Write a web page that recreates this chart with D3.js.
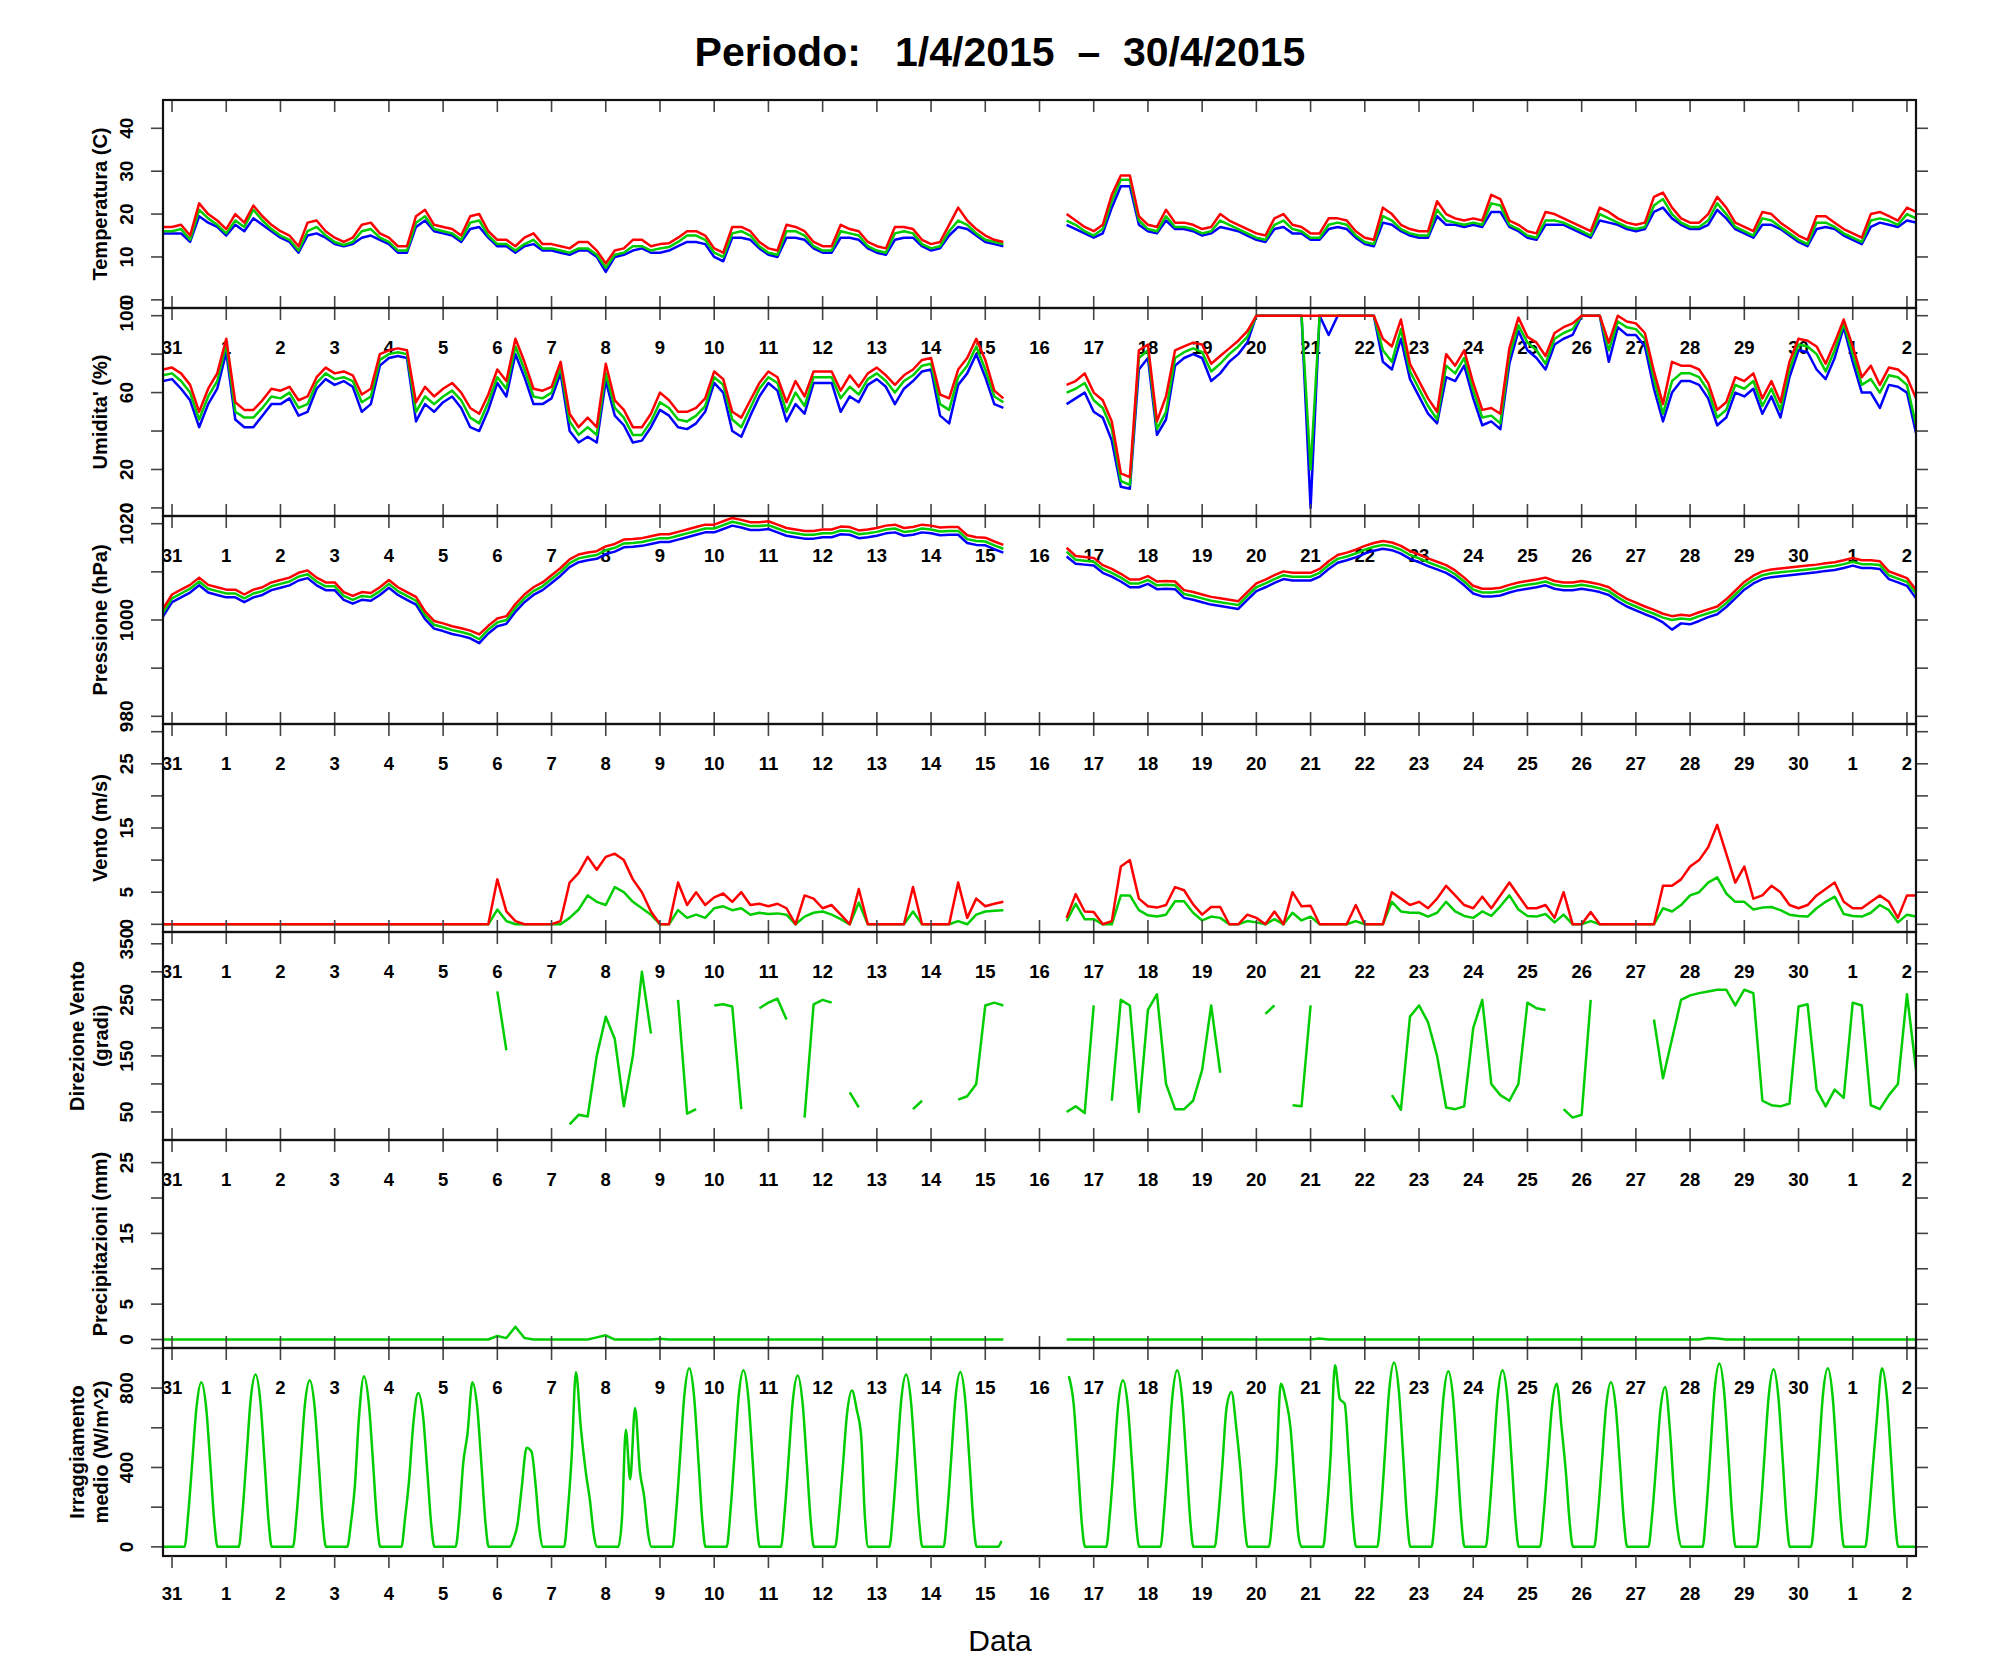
<!DOCTYPE html>
<html><head><meta charset="utf-8">
<script src="https://cdn.jsdelivr.net/npm/d3@7"></script>
<style>
body{margin:0;background:#fff}
svg{display:block}
text{font-family:"Liberation Sans",Arial,Helvetica,sans-serif}
</style>
</head><body>
<svg id="chart" width="1991" height="1680"></svg>
<script>
const _ = null;
// ---- time axis ----
const dayLabels = ["31","1","2","3","4","5","6","7","8","9","10","11","12","13","14","15","16","17","18","19","20","21","22","23","24","25","26","27","28","29","30","1","2"];
const startHour = -4, stepHours = 4; // sample i is at (startHour + i*stepHours) hours after the "31" tick
const mainTitle = "Periodo:   1/4/2015  \u2013  30/4/2015";
const xTitle = "Data";

// ---- Temperatura (C) ----
const tempMin = [15.5,
 15.5,15.5,13.5,19.5,18,17, 15,17.5,16,19,17.5,16, 14.5,13.5,11,15,15.5,14.5, 13,12.5,13,14.5,15,14,
 13,11,11,17,18.5,16, 15.5,15,13.5,16.5,17,14.5, 12.5,12.5,11,12.5,13,11.5, 11.5,11,10.5,11.5,11.5,10,
 6.5,10,10.5,11.5,12,11, 11,11.5,12.5,13.5,13.5,13, 10,9,14.5,14.5,14,12, 10.5,10,14.5,14.5,14,12,
 11,11,14.5,14.5,14,12, 11,10.5,14,14.5,14.5,12.5, 11.5,12,15,17,16.5,15, 13.5,13,12.5,_,_,_,
 _,_,_,17.5,16.5,15.5, 14.5,15.5,21.5,26.5,26.5,17.5, 16,15.5,18.5,16.5,16.5,16, 15,15.5,17,16.5,16,15,
 14,13.5,16.5,17,15.5,15.5, 14,14,16.5,17,16.5,14.5, 13,12.5,18,17.5,16,15, 14.5,14.5,19.5,17.5,17.5,17,
 17.5,17,20.5,20.5,17,16, 14.5,14,17.5,17.5,17.5,16.5, 15.5,14.5,18.5,18,17.5,16.5, 16,16.5,20.5,21.5,19,17.5,
 16.5,16.5,17.5,21,19,16.5, 15.5,14.5,17.5,17.5,16.5,15, 13.5,12.5,16.5,17,16.5,15, 14,13,17,18,17.5,17,
 18.5,18];
const tempMean = [16,
 16,16.5,14,21,19,17.5, 15.5,18.5,17,21,18.5,16.5, 15,14,11.5,16,17,15, 13.5,12.8,13.5,16,16.5,14.5,
 13.5,11.5,11.5,18,19.5,16.5, 16,15.5,14,18,18.5,15, 13,13,11.5,13,14,12, 12,11.5,11,12,12,10.5,
 7.5,10.5,11,12.5,12.5,11.5, 12,12.3,13.5,15,15,14, 11,10,15.5,16,15,12.5, 11,10.5,16,16,15,12.5,
 11.5,11.5,16,15.5,15,12.5, 11.5,11,15.5,16,15.5,13, 12,12.5,16,18.5,17.5,15.5, 14,13.5,13,_,_,_,
 _,_,_,18.5,17.5,16, 15,16.5,23,28,28,18.5, 16.5,16,19.5,17,17,16.5, 15.5,16,18.5,17.5,16.5,15.5,
 14.5,14,17.5,18.5,16.5,16, 14.5,14.5,17.5,18,17.5,15, 13.5,13,19.5,18.5,16.5,15.5, 15,15,21,18.5,18,17.5,
 18,17.5,22.5,22,17.5,16.5, 15,14.5,18.5,18.5,18,17, 16,15,20,19,18,17, 16.5,17,22,23.5,20,18,
 17,17,18.5,22.5,20,17, 16,15,19,18.5,17,15.5, 14,13,18,18,17,15.5, 14.5,13.5,18.5,19,18.5,17.5,
 20,19];
const tempMax = [17,
 17,17.5,15,22.5,20,18.5, 16.5,20,18,22,19.5,17.5, 16,15,12.5,18,18.5,16, 14.5,13.5,14.5,17.5,18,15.5,
 14.5,12.5,12.5,19.5,21,17.5, 17,16.5,15,19.5,20,16, 14,14,12.5,14.5,15.5,13, 13,12.5,12,13.5,13.5,11.5,
 8.5,11.5,12,14,14,12.5, 13,13.2,14.5,16,16,15, 12,11,17,17,16,13.5, 12,11.5,17.5,17,16,13.5,
 12.5,12.5,17.5,16.5,16,13.5, 12.5,12,17,17,16.5,14, 13,13.5,17.5,21.5,18.5,16.5, 15,14,13.5,_,_,_,
 _,_,_,20,18.5,17, 16,17.5,24.5,29,29,19.5, 17.5,17,21,18,18,17.5, 16.5,17,20,18.5,17.5,16.5,
 15.5,15,19,20,17.5,17, 15.5,15.5,19,19,18.5,16, 14.5,14,21.5,20,17.5,16.5, 16,16,23,20,19,18.5,
 19,18.5,24.5,23.5,18.5,17.5, 16,15.5,20.5,20,19,18, 17,16,21.5,20.5,19,18, 17.5,18,24,25,21.5,19,
 18,18,20,24,21.5,18, 17,16,20.5,20,18,16.5, 15,14,19.5,19.5,18,16.5, 15.5,14.5,20,20.5,19.5,18.5,
 21.5,20.5];

// ---- Umidita' (%) ----
const humMin = [66,
 67,62,56,42,54,62, 81,46,42,42,48,54, 54,57,48,50,62,67, 64,66,63,50,54,74,
 78,79,78,45,54,50, 55,58,52,42,40,51, 65,58,80,68,54,54, 57,70,40,34,37,34,
 66,48,43,34,35,42, 51,48,42,41,44,50, 65,60,40,37,48,58, 65,61,45,54,49,65,
 65,65,50,58,55,64, 67,63,54,62,66,71, 72,48,44,64,70,80, 68,54,52,_,_,_,
 _,_,_,54,57,60, 50,47,35,11,10,72, 78,38,46,74,78,80, 78,66,70,76,80,86,
 100,100,100,100,100,100, 0,100,90,100,100,100, 100,100,76,72,88,67, 58,49,44,68,66,74,
 57,43,45,41,75,92, 82,78,72,85,88,90, 100,100,100,76,94,90, 90,84,62,45,60,66,
 66,64,57,43,47,60, 58,62,49,58,47,68, 82,81,72,67,78,94, 76,60,60,52,64,63,
 60,39];
const humMean = [69,
 70,66,60,46,58,66, 85,50,47,47,52,58, 57,60,52,54,65,70, 67,68,66,55,58,77,
 80,81,80,50,58,54, 58,61,56,47,44,55, 68,62,84,72,58,57, 60,73,45,38,42,38,
 70,52,47,38,38,45, 55,52,46,45,48,53, 68,64,46,42,52,62, 68,65,50,60,53,68,
 68,68,57,63,59,67, 70,66,60,66,69,74, 75,54,51,68,74,84, 72,58,55,_,_,_,
 _,_,_,60,62,65, 56,52,41,14,12,78, 82,41,50,78,81,83, 81,71,75,80,84,89,
 100,100,100,100,100,100, 20,100,100,100,100,100, 100,100,82,76,93,71, 62,53,46,74,70,78,
 61,47,48,44,79,95, 86,82,75,88,91,93, 100,100,100,82,97,94, 93,88,67,49,66,70,
 70,68,61,47,51,64, 62,66,53,62,51,72, 85,84,80,71,82,96, 80,64,67,60,69,68,
 64,43];
const humMax = [72,
 73,70,64,50,62,70, 88,55,51,51,56,62, 61,63,56,58,68,73, 70,71,69,59,62,80,
 82,83,82,55,63,58, 62,65,60,52,49,59, 72,66,88,76,62,61, 63,76,49,42,47,42,
 75,56,51,42,42,49, 60,56,50,50,52,57, 71,67,50,47,56,65, 71,68,55,66,58,71,
 71,71,61,69,63,70, 73,69,64,69,72,77, 78,59,57,72,78,88, 77,61,57,_,_,_,
 _,_,_,64,66,70, 60,56,45,18,16,82, 85,45,58,82,84,86, 85,75,79,83,87,92,
 100,100,100,100,100,100, 100,100,100,100,100,100, 100,100,88,84,98,75, 66,57,50,80,74,82,
 65,51,52,49,83,99, 89,86,79,91,94,96, 100,100,100,86,100,97, 96,91,71,54,76,74,
 74,72,65,51,55,68, 66,70,57,66,55,76, 88,87,84,75,86,98, 84,68,74,64,73,72,
 68,57];

// ---- Pressione (hPa) ----
const pressMin = [1000.7,
 1003.7,1004.7,1005.7,1007.2,1005.7,1005.2, 1004.7,1004.7,1003.7,1004.7,1005.2,1006.2,
 1006.7,1007.2,1008.2,1008.7,1007.2,1006.2, 1006.2,1004.2,1003.4,1004.2,1004,1005.2,
 1006.7,1005.2,1004.2,1003.2,1000.2,998.2, 997.7,997.1,996.7,996.2,995.2,997.2,
 998.7,999.2,1001.7,1003.7,1005.2,1006.2, 1007.7,1009.2,1011,1012,1012.4,1012.7,
 1013.7,1014.2,1015.1,1015.2,1015.4,1015.8, 1016.2,1016.2,1016.7,1017.2,1017.7,1018.2,
 1018.2,1018.9,1019.6,1019.2,1018.7,1018.7, 1018.9,1018.2,1017.5,1017.2,1016.9,1016.9,
 1017.2,1017.2,1017.8,1017.7,1017,1017.2, 1017.5,1018,1018.2,1017.5,1017.7,1018.2,
 1018,1017.6,1017.7,1017.7,1016,1015.6, 1015.5,1014.7,1014,_,_,_,
 _,_,_,1013.2,1011.7,1011.5, 1011.3,1009.8,1009,1008,1006.8,1006.8,
 1007.5,1006.4,1006.5,1006.4,1004.6,1004.2, 1003.7,1003.2,1002.9,1002.6,1002.3,1004.2,
 1006,1006.8,1007.7,1008.5,1008.2,1008.2, 1008.2,1009,1010.6,1011.9,1012.4,1013,
 1013.8,1014.4,1014.8,1014.5,1013.8,1012.7, 1012,1011.2,1010.5,1009.8,1008.7,1007.2,
 1005.5,1004.9,1004.9,1005.1,1005.7,1006.2, 1006.5,1006.8,1007.2,1006.5,1006.2,1006.2,
 1006.5,1006.2,1005.8,1005.2,1003.9,1002.8, 1002,1001.2,1000.5,999.5,998,999.3,
 999.1,999.8,1000.6,1001.2,1002.7,1004.5, 1006.3,1007.6,1008.5,1008.9,1009.1,1009.3,
 1009.5,1009.7,1009.9,1010.2,1010.4,1010.8, 1011.3,1010.8,1010.8,1010.6,1008.5,1007.8,
 1007.1,1004.5];
const pressMean = [1001.5,
 1004.5,1005.5,1006.5,1008,1006.5,1006, 1005.5,1005.5,1004.5,1005.5,1006,1007,
 1007.5,1008,1009,1009.5,1008,1007, 1007,1005,1004.2,1005,1004.8,1006,
 1007.5,1006,1005,1004,1001,999, 998.5,997.9,997.5,997,996,998,
 999.5,1000,1002.5,1004.5,1006,1007, 1008.5,1010,1011.8,1012.8,1013.2,1013.5,
 1014.5,1015,1015.9,1016,1016.2,1016.6, 1017,1017,1017.5,1018,1018.5,1019,
 1019,1019.7,1020.4,1020,1019.5,1019.5, 1019.7,1019,1018.3,1018,1017.7,1017.7,
 1018,1018,1018.6,1018.5,1017.8,1018, 1018.3,1018.8,1019,1018.3,1018.5,1019,
 1018.8,1018.4,1018.5,1018.5,1016.8,1016.4, 1016.3,1015.5,1014.8,_,_,_,
 _,_,_,1014.2,1012.5,1012.3, 1012.1,1010.6,1009.8,1008.8,1007.6,1007.6,
 1008.3,1007.2,1007.3,1007.2,1005.4,1005, 1004.5,1004,1003.7,1003.4,1003.1,1005,
 1006.8,1007.6,1008.5,1009.3,1009,1009, 1009,1009.8,1011.4,1012.7,1013.2,1013.8,
 1014.6,1015.2,1015.6,1015.3,1014.6,1013.5, 1012.8,1012,1011.3,1010.6,1009.5,1008,
 1006.3,1005.7,1005.7,1005.9,1006.5,1007, 1007.3,1007.6,1008,1007.3,1007,1007,
 1007.3,1007,1006.6,1006,1004.7,1003.6, 1002.8,1002,1001.3,1000.5,1000,1000.3,
 1000.1,1000.8,1001.4,1002,1003.5,1005.3, 1007.1,1008.4,1009.3,1009.7,1009.9,1010.1,
 1010.3,1010.5,1010.7,1011,1011.2,1011.6, 1012.1,1011.6,1011.6,1011.4,1009.3,1008.6,
 1007.9,1005.5];
const pressMax = [1002.3,
 1005.3,1006.3,1007.3,1008.8,1007.3,1006.8, 1006.3,1006.3,1005.3,1006.3,1006.8,1007.8,
 1008.3,1008.8,1009.8,1010.3,1008.8,1007.8, 1007.8,1005.8,1005,1005.8,1005.6,1006.8,
 1008.3,1006.8,1005.8,1004.8,1001.8,999.8, 999.3,998.7,998.3,997.8,997,998.8,
 1000.3,1000.8,1003.3,1005.3,1006.8,1007.8, 1009.3,1010.8,1012.6,1013.6,1014,1014.3,
 1015.3,1015.8,1016.7,1016.8,1017,1017.4, 1017.8,1017.8,1018.3,1018.8,1019.3,1019.8,
 1019.8,1020.5,1021.2,1020.8,1020.3,1020.3, 1020.5,1019.8,1019.1,1018.8,1018.5,1018.5,
 1018.8,1018.8,1019.4,1019.3,1018.6,1018.8, 1019.1,1019.6,1019.8,1019.1,1019.3,1019.8,
 1019.6,1019.2,1019.3,1019.3,1017.6,1017.2, 1017.1,1016.3,1015.6,_,_,_,
 _,_,_,1015,1013.3,1013.1, 1012.9,1011.4,1010.6,1009.6,1008.4,1008.4,
 1009.1,1008,1008.1,1008,1006.2,1005.8, 1005.3,1004.8,1004.5,1004.2,1003.9,1005.8,
 1007.6,1008.4,1009.3,1010.1,1009.8,1009.8, 1009.8,1010.6,1012.2,1013.5,1014,1014.6,
 1015.4,1016,1016.4,1016.1,1015.4,1014.3, 1013.6,1012.8,1012.1,1011.4,1010.3,1008.8,
 1007.1,1006.5,1006.5,1006.7,1007.3,1007.8, 1008.1,1008.4,1008.8,1008.1,1007.8,1007.8,
 1008.1,1007.8,1007.4,1006.8,1005.5,1004.4, 1003.6,1002.8,1002.1,1001.3,1000.8,1001.1,
 1000.9,1001.6,1002.2,1002.8,1004.3,1006.1, 1007.9,1009.2,1010.1,1010.5,1010.7,1010.9,
 1011.1,1011.3,1011.5,1011.8,1012,1012.4, 1012.9,1012.4,1012.4,1012.2,1010.1,1009.4,
 1008.7,1006.3];

// ---- Vento (m/s) ----
const windMean = [0,
 0,0,0,0,0,0, 0,0,0,0,0,0, 0,0,0,0,0,0, 0,0,0,0,0,0, 0,0,0,0,0,0, 0,0,0,0,0,0,
 2.3,0.5,0,0,0,0, 0,0,1,2.3,4.5,3.5, 3,5.8,5,3.5,2.5,1.5, 0,0,2.2,1,1.5,1,
 2.5,2.8,2.2,2.5,1.5,1.8, 1.6,1.7,1.5,0,1.2,1.8, 2,1.5,0.8,0,3.4,0, 0,0,0,0,2,0,
 0,0,0,0.5,0,1.5, 2,2.1,2.2,_,_,_, _,_,_,0.5,3.2,0.8, 0.8,0,0,4.5,4.5,2.2,
 1.4,1.2,1.5,3.6,3.6,1.8, 0.6,1.2,1,0,0,0.5, 0.3,0,0.8,0,1.8,0.6, 1.2,0,0,0,0,0.5,
 0,0,0,3.5,2,1.8, 1.8,1.2,1.8,3.5,2,1.3, 1,2,1.3,2.8,4.5,2.3, 1.3,1.2,1.6,0.3,1.5,0,
 0,0.5,0,0,0,0, 0,0,0,2.5,2,3, 4.5,5,6.5,7.3,4.8,3.5, 3.5,2.3,2.6,2.7,2.2,1.5,
 1.3,1.2,2.5,3.5,4.3,1.6, 1.3,1.2,1.8,3,2.2,0.3,
 1.5,1.2];
const windMax = [0,
 0,0,0,0,0,0, 0,0,0,0,0,0, 0,0,0,0,0,0, 0,0,0,0,0,0, 0,0,0,0,0,0, 0,0,0,0,0,0,
 7,2,0.5,0,0,0, 0,0.5,6.5,8,10.5,8.5, 10.5,11,10,7,5,2, 0,0,6.5,3,5,3,
 4.2,4.8,3.5,5,3,3.2, 2.8,3.2,2.5,0,4.5,4, 2.5,3,1.5,0,5.5,0, 0,0,0,0,5.8,0,
 0,0,0,6.5,1,4, 2.8,3.2,3.5,_,_,_, _,_,_,1,4.7,2, 1.9,0,0.5,9,10,4,
 2.8,2.6,3,5.8,5.3,3.1, 1.5,2.7,2.7,0,0,1.5, 1,0,2,0,5,2.8, 2.9,0,0,0,0,3,
 0,0,0,5,4,3, 3.5,2.5,4,6,4.5,3, 2.5,4.3,2.5,4.5,6.5,4.5, 2.5,2.5,3,1,5,0,
 0,1.9,0,0,0,0, 0,0,0,6,6,7, 9,10,12,15.5,11,6.5, 9,4,4.5,6,5,3,
 2.5,3,4.5,5.5,6.5,3.5, 2.5,2.5,3.5,4.5,3.5,1,
 4.5,4.5];

// ---- Direzione Vento (gradi) ----
const windDir = [_,
 _,_,_,_,_,_, _,_,_,_,_,_, _,_,_,_,_,_, _,_,_,_,_,_, _,_,_,_,_,_, _,_,_,_,_,_,
 265,160,_,_,_,_, _,_,28,45,42,150, 220,180,60,150,300,190, _,_,250,47,55,_,
 240,242,238,55,_,235, 245,252,215,_,40,242, 250,245,_,85,58,_, _,_,_,_,55,70,
 _,_,_,72,78,100, 240,245,240,_,_,_, _,_,_,50,60,48, 240,_,70,250,240,50,
 232,260,100,55,55,70, 125,240,120,_,_,_, _,225,240,_,62,60, 240,_,_,_,_,_,
 _,_,_,80,54,220, 240,210,150,58,55,60, 200,250,100,80,70,100, 245,235,232,_,55,40,
 45,250,_,_,_,_, _,_,215,110,180,250, 258,262,265,268,268,240, 268,262,70,62,60,65,
 238,242,90,60,90,75, 245,240,62,55,80,100,
 260,125];

// ---- Precipitazioni (mm) ----
const rain = [0,
 0,0,0,0,0,0, 0,0,0,0,0,0, 0,0,0,0,0,0, 0,0,0,0,0,0, 0,0,0,0,0,0, 0,0,0,0,0,0,
 0.5,0.2,1.8,0.2,0,0, 0,0,0,0,0,0.3, 0.6,0,0,0,0,0, 0.1,0,0,0,0,0,
 0,0,0,0,0,0, 0,0,0,0,0,0, 0,0,0,0,0,0, 0,0,0,0,0,0,
 0,0,0,0,0,0, 0,0,0,_,_,_, _,_,_,0,0,0, 0,0,0,0,0,0,
 0,0,0,0,0,0, 0,0,0,0,0,0, 0,0,0,0,0,0, 0,0.15,0,0,0,0,
 0,0,0,0,0,0, 0,0,0,0,0,0, 0,0,0,0,0,0, 0,0,0,0,0,0,
 0,0,0,0,0,0, 0,0,0,0,0,0, 0,0,0.2,0.15,0,0, 0,0,0,0,0,0,
 0,0,0,0,0,0, 0,0,0,0,0,0,
 0,0];

// ---- Irraggiamento medio (W/m^2): one row per day, sampled at irrOffsets (fraction of day) ----
const irrOffsets = [0.23,0.30,0.37,0.45,0.54,0.63,0.71,0.78,0.84];
const irrDays = [
 [0,170,415,700,830,700,400,125,0],
 [0,175,435,740,868,730,415,130,0],
 [0,170,420,715,839,705,405,125,0],
 [0,120,300,660,860,720,415,130,0],
 [0,150,330,620,775,660,375,115,0],
 [0,160,420,570,830,700,400,125,0],
 [0,40,110,300,500,480,300,80,0],
 [0,180,450,880,600,380,230,60,0],
 [0,150,590,340,700,380,250,70,0],
 [0,180,450,765,900,755,430,135,0],
 [0,180,445,755,890,750,430,135,0],
 [0,175,435,735,864,725,415,130,0],
 [0,160,395,670,788,690,560,150,0],
 [0,175,435,740,868,730,415,130,0],
 [0,175,440,750,881,740,425,130,0],
 [0,30,_,_,_,_,_,_,_],
 [_,_,_,_,860,720,410,120,0],
 [0,170,420,715,839,705,405,125,0],
 [0,180,445,755,890,750,430,135,0],
 [0,160,400,700,780,600,380,120,0],
 [0,165,410,822,745,600,300,50,0],
 [0,180,460,915,745,720,420,130,0],
 [0,185,465,790,929,780,445,140,0],
 [0,175,445,750,885,745,425,135,0],
 [0,180,445,755,890,750,430,135,0],
 [0,165,410,700,822,600,373,120,0],
 [0,165,415,705,830,700,400,125,0],
 [0,160,400,685,805,580,250,68,0],
 [0,185,460,785,924,775,445,140,0],
 [0,180,450,760,895,750,430,135,0],
 [0,180,450,765,900,755,430,135,0],
 [0,165,400,660,900,755,430,135,0]
];

// ---- y axes: tick values and the labels shown ----
const tempTicks = [0,10,20,30,40],             tempLabels = [0,10,20,30,40];
const humTicks = [0,20,40,60,80,100],          humLabels = [0,20,60,100];
const pressTicks = [980,990,1000,1010,1020],   pressLabels = [980,1000,1020];
const windTicks = [0,5,10,15,20,25,30],        windLabels = [0,5,15,25];
const dirTicks = [50,100,150,200,250,300,350], dirLabels = [50,150,250,350];
const rainTicks = [0,5,10,15,20,25],           rainLabels = [0,5,15,25];
const irrTicks = [0,200,400,600,800,1000],     irrLabels = [0,400,800];

// ---- drawing ----
const RED = "#ff0000", GREEN = "#00cd00", BLUE = "#0000ff";
const svg = d3.select("#chart");
const L = 163, R = 1916, PH = 208;
const tops = [100, 308, 516, 724, 932, 1140, 1348];
const bottom = tops[6] + PH;
const x = d3.scaleLinear().domain([startHour/24, 32 + 4/24]).range([L, R]);
const times = tempMean.map((v, i) => (startHour + i * stepHours) / 24);

// irradiance points
const irrPts = [{t: startHour/24, v: 0}];
irrDays.forEach((row, d) => row.forEach((v, k) => irrPts.push({t: d + irrOffsets[k], v})));
irrPts.push({t: 32 + 4/24, v: 0});

const panels = [
  {title: ["Temperatura (C)"], dom: [-1.9, 46.6], ticks: tempTicks, labels: tempLabels,
   series: [[tempMin, BLUE], [tempMean, GREEN], [tempMax, RED]]},
  {title: ["Umidita' (%)"], dom: [-4.2, 104], ticks: humTicks, labels: humLabels,
   series: [[humMin, BLUE], [humMean, GREEN], [humMax, RED]]},
  {title: ["Pressione (hPa)"], dom: [978.4, 1021.6], ticks: pressTicks, labels: pressLabels,
   series: [[pressMin, BLUE], [pressMean, GREEN], [pressMax, RED]]},
  {title: ["Vento (m/s)"], dom: [-1.2, 31.2], ticks: windTicks, labels: windLabels,
   series: [[windMean, GREEN], [windMax, RED]]},
  {title: ["Direzione Vento", "(gradi)"], dom: [0, 371], ticks: dirTicks, labels: dirLabels,
   series: [[windDir, GREEN]]},
  {title: ["Precipitazioni (mm)"], dom: [-1.2, 28.2], ticks: rainTicks, labels: rainLabels,
   series: [[rain, GREEN]]},
  {title: ["Irraggiamento", "medio (W/m^2)"], dom: [-46, 1002], ticks: irrTicks, labels: irrLabels,
   series: [], irr: true}
];

// title
svg.append("text").attr("x", 1000).attr("y", 66).attr("text-anchor", "middle")
  .style("font-size", "41px").style("font-weight", "bold").style("white-space", "pre")
  .attr("xml:space", "preserve").text(mainTitle);

const defs = svg.append("defs");
const dayIdx = d3.range(dayLabels.length);

panels.forEach((p, pi) => {
  const top = tops[pi], bot = top + PH;
  const y = d3.scaleLinear().domain(p.dom).range([bot, top]);
  const g = svg.append("g");

  // x ticks at the top edge of the panel
  const t0 = pi === 0 ? top : top - 12;
  g.selectAll(".xt").data(dayIdx).join("line")
    .attr("x1", d => x(d)).attr("x2", d => x(d)).attr("y1", t0).attr("y2", top + 12)
    .attr("stroke", "#444").attr("stroke-width", 1.6);
  // day labels below the top edge (panels 2..7)
  if (pi > 0) {
    g.selectAll(".xl").data(dayIdx).join("text")
      .attr("x", d => x(d)).attr("y", top + 39.5).attr("text-anchor", "middle")
      .attr("dominant-baseline", "central")
      .style("font-size", "18.5px").style("font-weight", "bold")
      .text(d => dayLabels[d]);
  }

  // y ticks left and right
  g.selectAll(".yl").data(p.ticks).join("line")
    .attr("x1", L - 12).attr("x2", L).attr("y1", d => y(d)).attr("y2", d => y(d))
    .attr("stroke", "#444").attr("stroke-width", 1.6);
  g.selectAll(".yr").data(p.ticks).join("line")
    .attr("x1", R).attr("x2", R + 12).attr("y1", d => y(d)).attr("y2", d => y(d))
    .attr("stroke", "#444").attr("stroke-width", 1.6);
  g.selectAll(".ylab").data(p.labels).join("text")
    .attr("transform", d => `translate(126,${y(d)}) rotate(-90)`)
    .attr("text-anchor", "middle").attr("dominant-baseline", "central")
    .style("font-size", "19px").style("font-weight", "bold")
    .text(d => d);

  // axis title
  const cy = (top + bot) / 2;
  const tx = p.title.length === 1 ? [100] : [77, 101];
  p.title.forEach((s, k) => {
    g.append("text").attr("transform", `translate(${tx[k]},${cy}) rotate(-90)`)
      .attr("text-anchor", "middle").attr("dominant-baseline", "central")
      .style("font-size", "20px").style("font-weight", "bold").text(s);
  });

  // clip
  defs.append("clipPath").attr("id", "clip" + pi).append("rect")
    .attr("x", L).attr("y", top).attr("width", R - L).attr("height", PH);
  const lg = g.append("g").attr("clip-path", `url(#clip${pi})`);

  const line = d3.line().defined(d => d.v !== null && d.v !== undefined)
    .x(d => x(d.t)).y(d => y(d.v));
  p.series.forEach(([vals, col]) => {
    const pts = vals.map((v, i) => ({t: times[i], v}));
    lg.append("path").attr("d", line(pts)).attr("fill", "none")
      .attr("stroke", col).attr("stroke-width", 2.5).attr("stroke-linejoin", "round");
  });
  if (p.irr) {
    const il = d3.line().defined(d => d.v !== null).curve(d3.curveMonotoneX)
      .x(d => x(d.t)).y(d => y(d.v));
    lg.append("path").attr("d", il(irrPts)).attr("fill", "none")
      .attr("stroke", GREEN).attr("stroke-width", 2.5).attr("stroke-linejoin", "round");
  }

  // panel box
  g.append("rect").attr("x", L).attr("y", top).attr("width", R - L).attr("height", PH)
    .attr("fill", "none").attr("stroke", "#111").attr("stroke-width", 2.2);
});

// bottom axis
svg.selectAll(".bt").data(dayIdx).join("line")
  .attr("x1", d => x(d)).attr("x2", d => x(d)).attr("y1", bottom).attr("y2", bottom + 12)
  .attr("stroke", "#444").attr("stroke-width", 1.6);
svg.selectAll(".bl").data(dayIdx).join("text")
  .attr("x", d => x(d)).attr("y", 1593).attr("text-anchor", "middle").attr("dominant-baseline", "central")
  .style("font-size", "18.5px").style("font-weight", "bold").text(d => dayLabels[d]);
svg.append("text").attr("x", 1000).attr("y", 1640).attr("text-anchor", "middle")
  .attr("dominant-baseline", "central").style("font-size", "30px").text(xTitle);
</script>
</body></html>
